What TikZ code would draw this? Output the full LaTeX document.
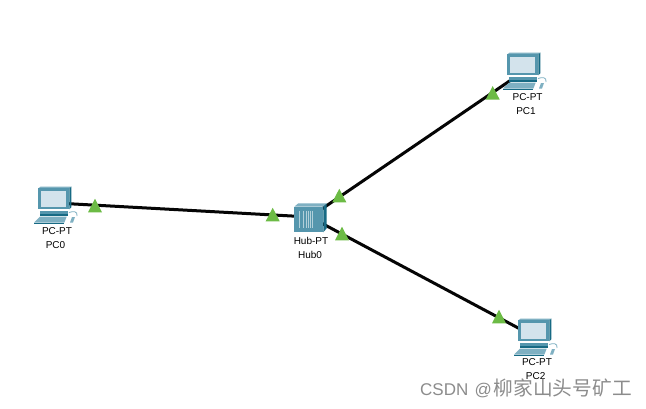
\documentclass[tikz,border=0pt]{standalone}
\usepackage{fontspec}
\setmainfont{Liberation Sans}
\newfontfamily\cjkfont{Noto Sans CJK SC}
\usetikzlibrary{shapes.geometric}
\definecolor{linkblack}{HTML}{050505}
\definecolor{statusgreen}{HTML}{6CBB45}
\definecolor{devicemid}{HTML}{5596AD}
\definecolor{devicelight}{HTML}{7FB0C2}
\definecolor{devicedark}{HTML}{176A84}
\definecolor{screenblue}{HTML}{D3E3EC}
\definecolor{markgray}{HTML}{8C8C8C}
\tikzset{
	link/.style={linkblack, line width=3pt},
	status/.style={isosceles triangle, isosceles triangle stretches, shape border rotate=90,
		fill=statusgreen, minimum width=14pt, minimum height=13.5pt, inner sep=0pt},
	devlabel/.style={font=\fontsize{10}{11}\selectfont, inner sep=0pt, text=black},
	pcicon/.pic={
		\fill[devicelight] (-16.7,-16.7) -- (-14.5,-18.3) -- (16.3,-18.3) -- (14.3,-16.7) -- cycle;
		\fill[devicemid] (-16.7,-16.7) rectangle (14.3,4.3);
		\fill[devicedark] (14.3,-16.7) -- (16.3,-18.3) -- (16.3,2.3) -- (14.3,4.3) -- cycle;
		\fill[screenblue] (-14,-14) rectangle (11,2.3);
		\fill[devicemid] (-15,6) rectangle (13,10);
		\fill[devicedark] (-15,9) rectangle (13,10.5);
		\fill[devicelight] (-21,17.7) -- (-15,11.7) -- (11.7,11.7) -- (9.3,17.7) -- cycle;
		\fill[devicedark] (-21,17.7) rectangle (9.3,18.3);
		\fill[devicelight] (15,17.5) -- (17,12) -- (20,12) -- (18,17.5) -- cycle;
		\draw[devicelight, line width=0.8pt] (14,7.5) .. controls (18,6) and (23,6) .. (22,11);
	},
	hubicon/.pic={
		\fill[devicelight] (-15.7,-10.3) -- (-11.7,-13.7) -- (16.7,-13.7) -- (13.3,-10.3) -- cycle;
		\fill[devicemid] (-15.7,-10.3) rectangle (13.3,15.3);
		\fill[devicedark] (13.3,-10.3) -- (16.7,-13.7) -- (16.7,11.3) -- (13.3,15.3) -- cycle;
		\foreach \sx in {-10.7,-7,-4,-1.5,0.5,2.5}
		\draw[devicelight!60!white, line width=0.8pt] (\sx,-6.5) -- (\sx,10.5);
	},
}

\begin{document}
\begin{tikzpicture}[x=1pt, y=-1pt]
	\useasboundingbox (0,0) rectangle (646,408);
	\fill[white] (0,0) rectangle (646,408);
	
	% Devices
	\node[inner sep=0pt] (hub0) at (310,217) {};
	\node[inner sep=0pt] (pc0) at (65,203.5) {};
	\node[inner sep=0pt] (pc1) at (511,80) {};
	\node[inner sep=0pt] (pc2) at (522,330) {};
	
	% Links
	\draw[link] (pc0) -- (hub0);
	\draw[link] (hub0) -- (pc1);
	\draw[link] (hub0) -- (pc2);
	
	% Icons
	\pic at (55,205) {pcicon};
	\pic at (524,71) {pcicon};
	\pic at (535,337) {pcicon};
	\pic at (310,217) {hubicon};
	
	% Link lights
	\node[status] (light0a) at (95,208) {};
	\node[status] (light0b) at (272.7,217) {};
	\node[status] (light1a) at (339.3,198) {};
	\node[status] (light1b) at (492.7,95.3) {};
	\node[status] (light2a) at (342,236) {};
	\node[status] (light2b) at (499,319) {};
	
	% Labels
	\node[devlabel] (pc0type) at (57,231) {PC-PT};
	\node[devlabel] (pc0name) at (55.5,245) {PC0};
	\node[devlabel] (pc1type) at (527.6,97) {PC-PT};
	\node[devlabel] (pc1name) at (526,111) {PC1};
	\node[devlabel] (hubtype) at (311,241) {Hub-PT};
	\node[devlabel] (hubname) at (310,255) {Hub0};
	\node[devlabel] (pc2type) at (537,362) {PC-PT};
	\node[devlabel] (pc2name) at (535.6,376) {PC2};
	
	% Watermark
	\node[anchor=west, inner sep=0pt, text=markgray, font=\fontsize{17}{18}\selectfont] (csdnmark)
	at (420,388.5) {CSDN\hspace{1.5pt} @\hspace{2pt}{\cjkfont\fontsize{19.7}{20}\selectfont 柳家山头号矿工}};
	
\end{tikzpicture}
\end{document}
